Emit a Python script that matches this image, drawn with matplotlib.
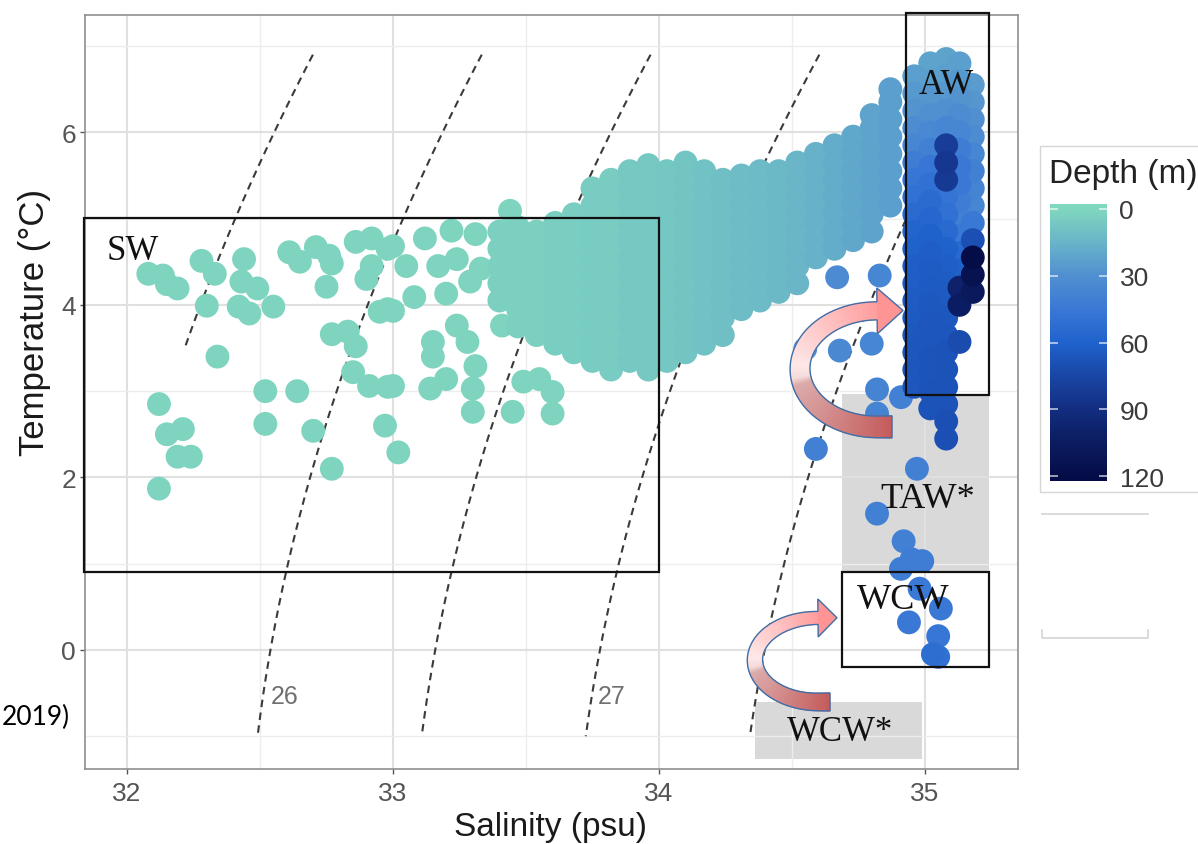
import numpy as np
import matplotlib
matplotlib.use("Agg")
import matplotlib.pyplot as plt
from matplotlib.colors import LinearSegmentedColormap, Normalize, to_rgb
from matplotlib.patches import Rectangle, Polygon
from matplotlib.collections import PolyCollection
from matplotlib.transforms import IdentityTransform
from matplotlib.lines import Line2D
import matplotlib.cm as cm

plt.rcParams['font.family'] = ['Liberation Sans', 'DejaVu Sans']

# ---------------- data ----------------
# sparse shallow points (surface water region)
sparse_sal = [32.08, 32.135, 32.15, 32.19, 32.28, 32.33, 32.44, 32.43, 32.49, 32.30,
              32.42, 32.46, 32.55, 32.34, 32.61, 32.65, 32.71, 32.76, 32.77, 32.75,
              32.86, 32.92, 32.90, 32.92, 32.98, 32.95, 33.00, 32.77, 32.83, 32.86,
              32.85, 32.91, 32.98, 32.12, 32.21, 32.15, 32.19, 32.24, 32.12, 32.52,
              32.64, 32.52, 32.70, 32.77, 32.97, 33.02,
              33.00, 33.05, 33.08, 32.98, 33.12, 33.22, 33.31, 33.17, 33.24, 33.20,
              33.29, 33.33, 33.24, 33.28, 33.15, 33.15, 33.31, 33.20, 33.14, 33.30,
              33.30, 33.00, 33.49, 33.55, 33.60, 33.45, 33.60, 33.41, 33.44]
sparse_temp = [4.36, 4.34, 4.24, 4.19, 4.51, 4.36, 4.53, 4.27, 4.19, 3.99,
               3.98, 3.90, 3.98, 3.40, 4.61, 4.50, 4.67, 4.57, 4.48, 4.21,
               4.73, 4.77, 4.30, 4.45, 4.65, 3.92, 3.93, 3.66, 3.69, 3.52,
               3.22, 3.06, 3.05, 2.85, 2.56, 2.50, 2.24, 2.24, 1.87, 3.00,
               3.00, 2.62, 2.54, 2.10, 2.60, 2.29,
               4.68, 4.45, 4.09, 3.95, 4.77, 4.86, 4.82, 4.45, 4.53, 4.13,
               4.27, 4.42, 3.76, 3.57, 3.57, 3.40, 3.29, 3.14, 3.03, 3.03,
               2.76, 3.06, 3.11, 3.14, 2.99, 2.76, 2.74, 3.76, 5.09]
sparse_depth = 1.0

# dense cloud, listed by salinity column
cloud_sal = [33.40, 33.47, 33.54, 33.61, 33.68, 33.75, 33.82, 33.89, 33.96, 34.03, 34.10,
             34.17, 34.24, 34.31, 34.38, 34.45, 34.52, 34.59, 34.66, 34.73, 34.80, 34.87]
cloud_temp = [
    [4.05, 4.25, 4.45, 4.65, 4.85],
    [3.75, 3.95, 4.15, 4.35, 4.55, 4.75, 4.90],
    [3.65, 3.85, 4.05, 4.25, 4.45, 4.65, 4.85],
    [3.55, 3.75, 3.95, 4.15, 4.35, 4.55, 4.75, 4.95],
    [3.45, 3.65, 3.85, 4.05, 4.25, 4.45, 4.65, 4.85, 5.05],
    [3.35, 3.55, 3.75, 3.95, 4.15, 4.35, 4.55, 4.75, 4.95, 5.15, 5.35],
    [3.25, 3.45, 3.65, 3.85, 4.05, 4.25, 4.45, 4.65, 4.85, 5.05, 5.25, 5.45],
    [3.35, 3.55, 3.75, 3.95, 4.15, 4.35, 4.55, 4.75, 4.95, 5.15, 5.35, 5.55],
    [3.25, 3.45, 3.65, 3.85, 4.05, 4.25, 4.45, 4.65, 4.85, 5.05, 5.25, 5.45, 5.62],
    [3.35, 3.55, 3.75, 3.95, 4.15, 4.35, 4.55, 4.75, 4.95, 5.15, 5.35, 5.55],
    [3.45, 3.65, 3.85, 4.05, 4.25, 4.45, 4.65, 4.85, 5.05, 5.25, 5.45, 5.65],
    [3.55, 3.75, 3.95, 4.15, 4.35, 4.55, 4.75, 4.95, 5.15, 5.35, 5.55],
    [3.65, 3.85, 4.05, 4.25, 4.45, 4.65, 4.85, 5.05, 5.25, 5.45],
    [3.95, 4.15, 4.35, 4.55, 4.75, 4.95, 5.15, 5.35, 5.50],
    [4.05, 4.25, 4.45, 4.65, 4.85, 5.05, 5.25, 5.45, 5.55],
    [4.15, 4.35, 4.55, 4.75, 4.95, 5.15, 5.35, 5.55],
    [4.25, 4.45, 4.65, 4.85, 5.05, 5.25, 5.45, 5.65],
    [4.55, 4.75, 4.95, 5.15, 5.35, 5.55, 5.75],
    [4.65, 4.85, 5.05, 5.25, 5.45, 5.65, 5.85],
    [4.75, 4.95, 5.15, 5.35, 5.55, 5.75, 5.95],
    [4.85, 5.05, 5.25, 5.45, 5.65, 5.85, 6.05, 6.20],
    [5.15, 5.35, 5.55, 5.75, 5.95, 6.15, 6.35, 6.50],
]
cloud_depth = [3, 3, 3, 4, 4, 5, 5, 6, 6, 7, 8, 9, 10, 11, 12, 13, 14, 16, 18, 20, 22, 24]

# Atlantic water column, listed by salinity column
aw_sal = [34.96, 35.02, 35.08, 35.13, 35.18]
aw_temp = [
    [6.65, 6.45, 6.25, 6.05, 5.85, 5.65, 5.45, 5.25, 5.05, 4.85, 4.65, 4.45, 4.25, 4.05, 3.85,
     3.65, 3.45, 3.25, 3.05],
    [6.80, 6.60, 6.40, 6.20, 6.00, 5.80, 5.60, 5.40, 5.20, 5.00, 4.80, 4.60, 4.40, 4.20, 4.00,
     3.80, 3.60, 3.40, 3.20, 3.00, 2.80],
    [6.85, 6.65, 6.45, 6.25, 6.05, 5.85, 5.65, 5.45, 5.25, 5.05, 4.85, 4.65, 4.45, 4.25, 4.05,
     3.85, 3.65, 3.45, 3.25, 3.05, 2.85, 2.65, 2.45],
    [6.80, 6.60, 6.40, 6.20, 6.00, 5.80, 5.60, 5.40, 5.20, 5.00, 4.80, 4.60, 4.40, 4.20, 4.00, 3.57],
    [6.55, 6.35, 6.15, 5.95, 5.75, 5.55, 5.35, 5.15, 4.95, 4.75, 4.55, 4.35, 4.15],
]
aw_depth = [
    [24, 26, 28, 32, 36, 42, 46, 50, 54, 58, 60, 62, 62, 63, 64, 65, 66, 66, 66],
    [22, 24, 27, 30, 35, 40, 46, 50, 54, 57, 60, 62, 63, 64, 65, 66, 66, 67, 67, 68, 68],
    [22, 24, 26, 30, 36, 80, 84, 82, 48, 50, 55, 60, 62, 63, 64, 65, 66, 68, 68, 68, 68, 70, 70],
    [24, 26, 28, 32, 36, 42, 45, 45, 42, 40, 45, 55, 60, 100, 104, 72],
    [25, 27, 30, 32, 36, 40, 38, 36, 45, 70, 120, 114, 108],
]

# deeper isolated points (TAW*, WCW)
deep_sal = [34.55, 34.67, 34.83, 34.68, 34.80, 34.82, 34.91, 34.82, 34.59, 34.97,
            34.82, 34.92, 34.99, 34.91, 34.95, 34.98, 35.06, 34.94, 35.05, 35.03, 35.05]
deep_temp = [3.49, 4.32, 4.34, 3.47, 3.55, 3.02, 2.93, 2.74, 2.33, 2.10,
             1.58, 1.26, 1.03, 0.94, 1.05, 0.71, 0.48, 0.32, 0.16, -0.05, -0.08]
deep_depth = [32, 33, 36, 34, 36, 38, 40, 38, 40, 40,
              40, 40, 42, 42, 42, 44, 45, 45, 46, 52, 50]

x_ticks = [32, 33, 34, 35]
x_minor = [32.5, 33.5, 34.5]
y_ticks = [0, 2, 4, 6]
y_minor = [-1, 1, 3, 5, 7]
depth_ticks = [0, 30, 60, 90, 120]

sigma_levels = [25.62, 26.12, 26.62, 27.12, 27.62]
sigma_text = ['26', '27']
sigma_text_sal = [32.594, 33.823]
sigma_text_temp = -0.53

# water mass boxes: (S0, T0, S1, T1)
gray_boxes = [(34.69, 0.92, 35.24, 2.97), (34.36, -1.26, 34.99, -0.60)]
black_boxes = [(31.84, 0.90, 34.00, 5.01), (34.93, 2.96, 35.24, 7.38), (34.69, -0.20, 35.24, 0.90)]
zone_names = ['SW', 'AW', 'TAW*', 'WCW', 'WCW*']
zone_sal = [32.02, 35.08, 35.01, 34.92, 34.68]
zone_temp = [4.63, 6.55, 1.75, 0.59, -0.95]
zone_size = [25, 25, 26, 26, 25]

# ---------------- figure ----------------
W, H = 1198, 845
fig = plt.figure(figsize=(W / 100, H / 100), dpi=100)
fig.patch.set_facecolor('white')
ax = fig.add_axes([85 / W, 1 - 770 / H, (1018 - 85) / W, (770 - 16) / H])
ax.set_xlim(31.842, 35.35)
ax.set_ylim(-1.38, 7.36)

cmap = LinearSegmentedColormap.from_list('depth', [
    (0.0, '#80d8c0'), (2.2 / 124.4, '#7fd6be'), (17.2 / 124.4, '#68b4c9'),
    (32.2 / 124.4, '#508fd0'), (47.2 / 124.4, '#3a78d6'), (62.2 / 124.4, '#1f62cc'),
    (77.2 / 124.4, '#1946a6'), (92.2 / 124.4, '#132d80'), (107.2 / 124.4, '#0b1c60'),
    (1.0, '#040b45')])
norm = Normalize(vmin=-2.2, vmax=122.2)

# grid
ax.set_xticks(x_ticks)
ax.set_xticks(x_minor, minor=True)
ax.set_yticks(y_ticks)
ax.set_yticks(y_minor, minor=True)
ax.set_axisbelow(True)
ax.grid(True, which='major', color='#e0e0e0', lw=1.5)
ax.grid(True, which='minor', color='#ededed', lw=1.0)
ax.tick_params(which='minor', length=0)
ax.tick_params(which='major', length=3.5, width=1, color='#555555', labelcolor='#555555',
               labelsize=19)
ax.tick_params(axis='x', pad=5)
ax.tick_params(axis='y', pad=3)
for sp in ax.spines.values():
    sp.set_color('#8f8f8f')
    sp.set_linewidth(1.2)

# gray water mass boxes
for (s0, t0, s1, t1) in gray_boxes:
    ax.add_patch(Rectangle((s0, t0), s1 - s0, t1 - t0, fc='#d9d9d9', ec='none', zorder=0.2))


# isopycnals from the UNESCO EOS-80 surface density
def sigma_t(S, T):
    rho_w = (999.842594 + 6.793952e-2 * T - 9.095290e-3 * T ** 2 + 1.001685e-4 * T ** 3
             - 1.120083e-6 * T ** 4 + 6.536332e-9 * T ** 5)
    A = 8.24493e-1 - 4.0899e-3 * T + 7.6438e-5 * T ** 2 - 8.2467e-7 * T ** 3 + 5.3875e-9 * T ** 4
    B = -5.72466e-3 + 1.0227e-4 * T - 1.6546e-6 * T ** 2
    C = 4.8314e-4
    return rho_w + A * S + B * S ** 1.5 + C * S ** 2 - 1000.0


Sg, Tg = np.meshgrid(np.linspace(32.22, 35.14, 300), np.linspace(-1.0, 6.9, 300))
cs = ax.contour(Sg, Tg, sigma_t(Sg, Tg), levels=sigma_levels, colors='#3a3a3a',
                linewidths=1.5, zorder=1.5)
cs.set_linestyle((0, (3.6, 2.6)))
for lab, s in zip(sigma_text, sigma_text_sal):
    ax.text(s, sigma_text_temp, lab, color='#707070', fontsize=18, ha='center', va='center', zorder=1.6)

# scatter
all_s, all_t, all_d = [], [], []
all_s += sparse_sal; all_t += sparse_temp; all_d += [sparse_depth] * len(sparse_sal)
for s, temps, d in zip(cloud_sal, cloud_temp, cloud_depth):
    all_s += [s] * len(temps); all_t += temps; all_d += [d] * len(temps)
for s, temps, ds in zip(aw_sal, aw_temp, aw_depth):
    all_s += [s] * len(temps); all_t += temps; all_d += ds
all_s += deep_sal; all_t += deep_temp; all_d += deep_depth
all_s = np.array(all_s); all_t = np.array(all_t); all_d = np.array(all_d, dtype=float)
order = np.argsort(all_d, kind='stable')
ax.scatter(all_s[order], all_t[order], c=all_d[order], cmap=cmap, norm=norm, s=295,
           edgecolors='none', zorder=2)

# black boxes
for (s0, t0, s1, t1) in black_boxes:
    ax.add_patch(Rectangle((s0, t0), s1 - s0, t1 - t0, fill=False, ec='#111111', lw=1.6,
                           zorder=3, clip_on=False))

for name, s, t, fs in zip(zone_names, zone_sal, zone_temp, zone_size):
    ax.text(s, t, name, family=['Liberation Serif', 'DejaVu Serif'], fontsize=fs,
            ha='center', va='center', color='#111111', zorder=4)


# curved arrows
def grad(t):
    stops = [(0.0, '#c45a5a'), (0.47, '#dcaaaa'), (0.5, '#f6dcdc'), (0.55, '#ffe8e8'), (1.0, '#ff9d9d')]
    for (t0, c0), (t1, c1) in zip(stops[:-1], stops[1:]):
        if t <= t1:
            f = (t - t0) / (t1 - t0) if t1 > t0 else 0
            a, b = np.array(to_rgb(c0)), np.array(to_rgb(c1))
            return tuple(a + (b - a) * f)
    return to_rgb(stops[-1][1])


def curved_arrow(center, rx, ry, tail_s, w_tail, w_head, head_half, head_len):
    tr = ax.transData
    c = tr.transform(center)
    ex = tr.transform((center[0] + rx, center[1]))[0] - c[0]
    ey = tr.transform((center[0], center[1] + ry))[1] - c[1]
    xt = tr.transform((tail_s, center[1]))[0]
    s1x = np.linspace(xt, c[0], 8)[:-1]
    s1y = np.full_like(s1x, c[1] - ey)
    th = np.radians(np.linspace(270, 90, 100))
    px = np.concatenate([s1x, c[0] + ex * np.cos(th)])
    py = np.concatenate([s1y, c[1] + ey * np.sin(th)])
    dx, dy = np.gradient(px), np.gradient(py)
    L = np.hypot(dx, dy)
    tx, ty = dx / L, dy / L
    nx, ny = -ty, tx
    sl = np.concatenate([[0], np.cumsum(np.hypot(np.diff(px), np.diff(py)))])
    t = sl / sl[-1]
    w = w_tail + (w_head - w_tail) * t
    lx, ly = px + nx * w / 2, py + ny * w / 2
    rx_, ry_ = px - nx * w / 2, py - ny * w / 2
    quads, cols = [], []
    for i in range(len(px) - 1):
        quads.append([(lx[i], ly[i]), (lx[i + 1], ly[i + 1]), (rx_[i + 1], ry_[i + 1]), (rx_[i], ry_[i])])
        cols.append(grad(0.5 * (t[i] + t[i + 1])))
    fig.add_artist(PolyCollection(quads, facecolors=cols, edgecolors=cols, linewidths=0.6,
                                  transform=IdentityTransform(), zorder=5))
    end = np.array([px[-1], py[-1]])
    tv = np.array([tx[-1], ty[-1]])
    nv = np.array([nx[-1], ny[-1]])
    b1 = end + nv * head_half
    b2 = end - nv * head_half
    tip = end + tv * head_len
    fig.add_artist(Polygon([b1, tip, b2], closed=True, fc='#ff9494', ec='none',
                           transform=IdentityTransform(), zorder=5.5))
    outline = list(zip(lx, ly)) + [tuple(b1), tuple(tip), tuple(b2)] + list(zip(rx_[::-1], ry_[::-1]))
    fig.add_artist(Polygon(outline, closed=True, fill=False, ec='#3f6ea8', lw=1.0,
                           transform=IdentityTransform(), zorder=6))


curved_arrow((34.82, 3.258), 0.2895, 0.6725, 34.876, 22, 18, 23, 26)
curved_arrow((34.598, -0.116), 0.237, 0.487, 34.643, 18, 13, 19, 19)

# axis titles
fig.text(551 / W, 1 - 836 / H, 'Salinity (psu)', fontsize=24, ha='center', va='baseline', color='#1a1a1a')
fig.text(35 / W, 1 - 323 / H, 'Temperature (°C)', fontsize=25, rotation=90, ha='center', va='center',
         color='#1a1a1a')

# colorbar legend
fig.add_artist(Rectangle((1040 / W, 1 - 493 / H), 175 / W, 346 / H, transform=fig.transFigure,
                         fc='white', ec='#d6d6d6', lw=1.0, zorder=-1))
cax = fig.add_axes([1050 / W, 1 - 482 / H, 57 / W, 277 / H])
cb = fig.colorbar(cm.ScalarMappable(norm=norm, cmap=cmap), cax=cax, ticks=depth_ticks)
cb.outline.set_visible(False)
cb.minorticks_off()
cax.invert_yaxis()
cax.yaxis.set_ticks_position('both')
cax.tick_params(direction='in', length=6, width=1.2, color=(1, 1, 1, 0.7), labelright=True,
                labelleft=False, labelsize=19, labelcolor='#3a3a3a', pad=9)
fig.text(1049 / W, 1 - 175 / H, 'Depth (m)', fontsize=24, ha='left', va='center', color='#222222')

# empty legend bracket below
fig.add_artist(Line2D([1042 / W, 1148 / W], [1 - 515 / H] * 2, color='#d4d4d4', lw=1.2))
fig.add_artist(Line2D([1042 / W, 1042 / W, 1148 / W, 1148 / W],
                      [1 - 631 / H, 1 - 639 / H, 1 - 639 / H, 1 - 631 / H], color='#d4d4d4', lw=1.2))

fig.text(2 / W, 1 - 717 / H, '2019)', fontsize=19, family=['Lato', 'DejaVu Sans'], ha='left',
         va='center', color='black')

fig.savefig('out.png', dpi=100)
